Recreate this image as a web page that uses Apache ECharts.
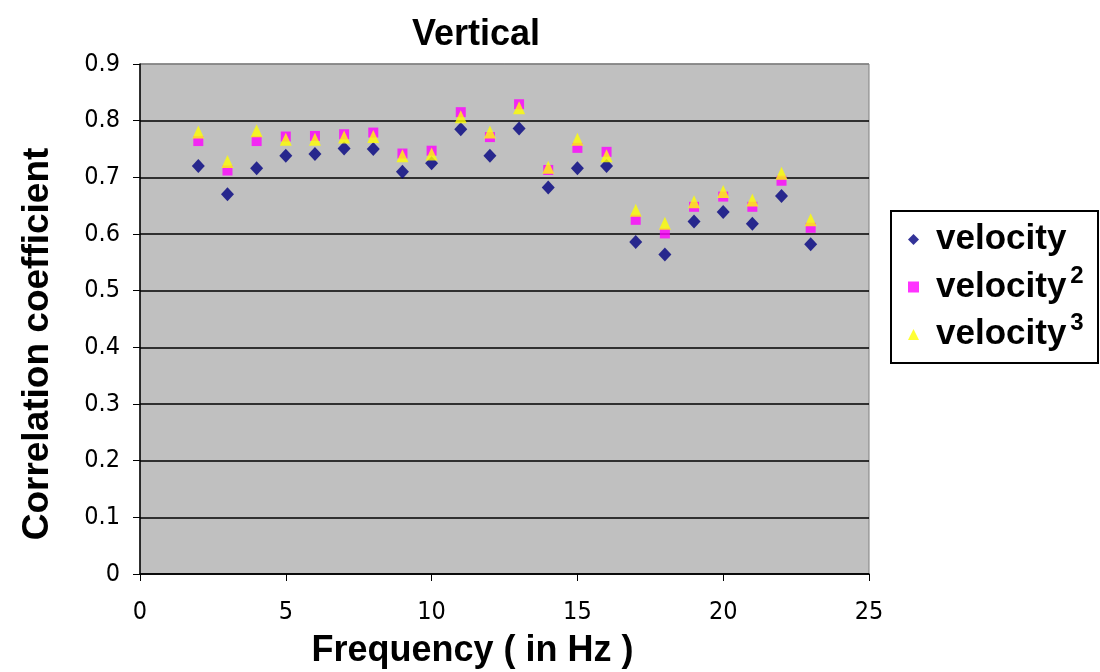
<!DOCTYPE html>
<html>
<head>
<meta charset="utf-8">
<script src="https://cdn.jsdelivr.net/npm/echarts@6/dist/echarts.min.js"></script>
<style>html,body{margin:0;padding:0;background:#fff;}#c{width:1100px;height:672px;}</style>
</head>
<body>
<div id="c"></div>
<script>
var frequencies = [2,3,4,5,6,7,8,9,10,11,12,13,14,15,16,17,18,19,20,21,22,23];
var velocity  = [0.720,0.670,0.716,0.738,0.741,0.751,0.750,0.710,0.725,0.785,0.738,0.786,0.682,0.716,0.720,0.586,0.564,0.622,0.639,0.618,0.667,0.582];
var velocity2 = [0.764,0.712,0.764,0.772,0.773,0.776,0.779,0.742,0.747,0.815,0.771,0.829,0.713,0.752,0.745,0.625,0.601,0.648,0.666,0.648,0.694,0.611];
var velocity3 = [0.780,0.728,0.782,0.767,0.767,0.771,0.772,0.738,0.741,0.807,0.780,0.823,0.718,0.767,0.738,0.642,0.619,0.657,0.675,0.660,0.707,0.625];
var seriesNames = ['velocity','velocity2','velocity3'];
var legendLabels = {velocity:'{a|velocity}', velocity2:'{a|velocity}{s|2}', velocity3:'{a|velocity}{s|3}'};

function pairs(ys){ return frequencies.map(function(f,i){ return [f, ys[i]]; }); }

var tickFont = "'Liberation Sans Narrow','Arial Narrow','DejaVu Sans Condensed','Liberation Sans',Arial,sans-serif";
var boldFont = "'Liberation Sans',Arial,sans-serif";

var chart = echarts.init(document.getElementById('c'), null, {renderer:'canvas'});
var splitColors = ['#000','#000','#000','#000','#000','#000','#000','#000','#000','#808080'];
chart.setOption({
  animation:false,
  backgroundColor:'#ffffff',
  title:{text:'Vertical', left:407, top:12, textStyle:{fontFamily:boldFont, fontWeight:'bold', fontSize:36, color:'#000'}},
  grid:{left:140, top:64, right:231, bottom:98, containLabel:false, outerBoundsMode:'none', show:true, backgroundColor:'#C0C0C0', borderColor:'#808080', borderWidth:1},
  xAxis:{type:'value', min:0, max:25, interval:5,
    name:'Frequency ( in Hz )', nameLocation:'middle', nameGap:59,
    nameTextStyle:{fontFamily:boldFont, fontWeight:'bold', fontSize:36, color:'#000', padding:[0,64,0,0]},
    axisLine:{show:true, onZero:false, lineStyle:{color:'#000', width:1.5}},
    axisTick:{show:true, inside:false, length:7, lineStyle:{color:'#000'}},
    axisLabel:{fontFamily:tickFont, fontSize:25, color:'#000', margin:26},
    splitLine:{show:false}},
  yAxis:{type:'value', min:0, max:0.9, interval:0.1,
    name:'Correlation coefficient', nameLocation:'middle', nameGap:84, nameRotate:90,
    nameTextStyle:{fontFamily:boldFont, fontWeight:'bold', fontSize:37, color:'#000', padding:[0,50,0,0]},
    axisLine:{show:true, onZero:false, lineStyle:{color:'#000', width:1.5}},
    axisTick:{show:true, inside:false, length:7, lineStyle:{color:'#000'}},
    axisLabel:{fontFamily:tickFont, fontSize:25, color:'#000', margin:20, formatter:function(v){return String(+v.toFixed(1));}},
    splitLine:{show:true, lineStyle:{color:splitColors, width:1.5}}},
  graphic:[{type:'rect', left:890, top:210, shape:{width:207, height:152}, style:{fill:'#fff', stroke:'#000', lineWidth:2}, z:0}],
  legend:{orient:'vertical', left:908, top:222, itemGap:7, itemWidth:11, itemHeight:11, padding:0,
    data:[{name:'velocity', icon:'diamond'},{name:'velocity2', icon:'rect'},{name:'velocity3', icon:'triangle'}],
    formatter:function(n){ return legendLabels[n]; },
    textStyle:{padding:[0,0,0,12], rich:{
      a:{fontFamily:boldFont, fontWeight:'bold', fontSize:35, color:'#000', lineHeight:41},
      s:{fontFamily:boldFont, fontWeight:'bold', fontSize:24, color:'#000', padding:[0,0,22,4]}
    }}},
  series:[
    {name:'velocity', type:'scatter', symbol:'diamond', symbolSize:[13,14], itemStyle:{color:'#000080'}, data:pairs(velocity), z:2},
    {name:'velocity2', type:'scatter', symbol:'rect', symbolSize:[10,10], itemStyle:{color:'#FF00FF'}, data:pairs(velocity2), z:3},
    {name:'velocity3', type:'scatter', symbol:'triangle', symbolSize:[12,13], itemStyle:{color:'#FFFF00'}, data:pairs(velocity3), z:4}
  ]
});
</script>
</body>
</html>
